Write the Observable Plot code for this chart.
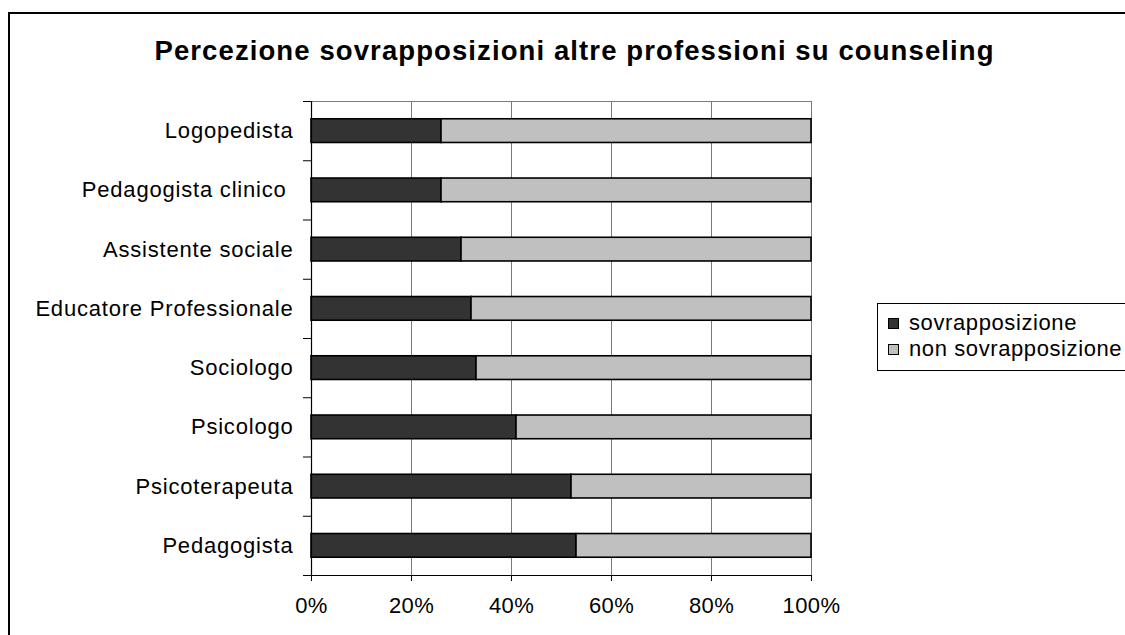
<!DOCTYPE html>
<html>
<head>
<meta charset="utf-8">
<script src="https://cdn.jsdelivr.net/npm/d3@7"></script>
<script src="https://cdn.jsdelivr.net/npm/@observablehq/plot@0.6"></script>
<style>
  html, body { margin: 0; padding: 0; background: #fff; overflow: hidden; }
  #wrap { position: relative; width: 1125px; height: 635px; overflow: hidden; font-family: "Liberation Sans", Arial, sans-serif; }
  #border { position: absolute; left: 8px; top: 12px; width: 1400px; height: 900px; border: 2px solid #000; box-sizing: border-box; }
  #chart { position: absolute; left: 0; top: 0; }
  .ttl text { letter-spacing: 1.1px; }
  .ylab text { letter-spacing: 0.8px; }
  .xlab text { letter-spacing: 0.4px; }
  #legend { position: absolute; left: 877px; top: 303px; width: 320px; height: 68px; border: 1px solid #000; box-sizing: border-box; background: #fff; }
  .item { position: absolute; left: 10px; height: 24px; display: flex; align-items: center; font-size: 22px; letter-spacing: 0.6px; color: #000; }
  .sw { width: 11px; height: 11px; border: 1px solid #000; margin-right: 10px; box-sizing: border-box; }
</style>
</head>
<body>
<div id="wrap">
  <div id="border"></div>
  <div id="chart"></div>
  <div id="legend"></div>
</div>
<script>
// Data (bottom to top order)
const title = "Percezione sovrapposizioni altre professioni su counseling";
const categories = ["Pedagogista", "Psicoterapeuta", "Psicologo", "Sociologo", "Educatore Professionale", "Assistente sociale", "Pedagogista clinico ", "Logopedista"];
const sovrapposizione = [53, 52, 41, 33, 32, 30, 26, 26];
const series = ["sovrapposizione", "non sovrapposizione"];
const seriesColors = ["#333333", "#c0c0c0"];
const xTicks = [0, 20, 40, 60, 80, 100];

const rows = [];
categories.forEach((c, i) => {
  const v = sovrapposizione[i];
  rows.push({cat: c, i, s: series[0], x1: 0, x2: v});
  rows.push({cat: c, i, s: series[1], x1: v, x2: 100});
});

const chart = Plot.plot({
  width: 1125,
  height: 635,
  marginLeft: 311,
  marginRight: 314,
  marginTop: 101,
  marginBottom: 60,
  style: {fontFamily: "'Liberation Sans', Arial, sans-serif", fontSize: "22px", color: "#000", background: "transparent", overflow: "visible"},
  x: {domain: [0, 100]},
  y: {domain: [0, categories.length]},
  color: {domain: series, range: seriesColors},
  marks: [
    Plot.gridX(xTicks, {stroke: "#7a7a7a", strokeOpacity: 1, strokeWidth: 1}),
    Plot.frame({stroke: "#7a7a7a", strokeWidth: 1}),
    Plot.rectX(rows, {x1: "x1", x2: "x2", y1: d => d.i + 0.3, y2: d => d.i + 0.7, fill: "s", stroke: "#000", strokeWidth: 1.6}),
    Plot.ruleX([0], {stroke: "#000", strokeWidth: 1.2}),
    Plot.ruleY([0], {stroke: "#000", strokeWidth: 1.2}),
    Plot.axisX({ticks: xTicks, tickFormat: d => d + "%", tickSize: 6, tickPadding: 16, label: null, stroke: "#000", fill: "#000", className: "xlab"}),
    Plot.axisY({ticks: d3.range(0, categories.length + 1), tickSize: 8, tickFormat: () => "", label: null, stroke: "#000"}),
    Plot.axisY({ticks: categories.map((c, i) => i + 0.5), tickFormat: v => categories[Math.floor(v)], tickSize: 0, tickPadding: 18, label: null, fill: "#000", className: "ylab"}),
    Plot.text([title], {frameAnchor: "top", lineAnchor: "middle", dy: -50, dx: 13, fontSize: 27.5, fontWeight: "bold", fill: "#000", className: "ttl"})
  ]
});
document.getElementById("chart").appendChild(chart);

// Legend
const legend = document.getElementById("legend");
const tops = [7, 33];
series.forEach((s, k) => {
  const item = document.createElement("div");
  item.className = "item";
  item.style.top = tops[k] + "px";
  const sw = document.createElement("div");
  sw.className = "sw";
  sw.style.background = seriesColors[k];
  const t = document.createElement("span");
  t.textContent = s;
  item.appendChild(sw);
  item.appendChild(t);
  legend.appendChild(item);
});
</script>
</body>
</html>
